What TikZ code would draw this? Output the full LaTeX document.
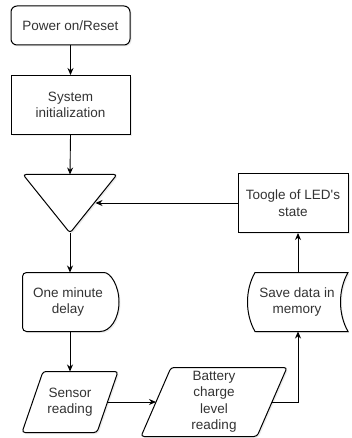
\documentclass[tikz,border=0pt]{standalone}
\usepackage{fontspec}
\setmainfont{Liberation Sans}
\usetikzlibrary{arrows.meta,calc,shadows}
\begin{document}
\begin{tikzpicture}[x=1pt,y=-1pt,
  shp/.style={draw=black,line width=1pt,fill=white,
    drop shadow={shadow xshift=1.5pt,shadow yshift=-1.5pt,opacity=0.15}},
  txt/.style={font=\fontsize{13.5}{16.5}\selectfont,align=center,text=black!80},
  arr/.style={-{Stealth[length=7pt,width=6pt]},line width=0.9pt},
  lin/.style={line width=0.9pt}]
\useasboundingbox (0,0) rectangle (351,438);

% Power on / Reset
\node[shp,rounded corners=6pt,minimum width=119pt,minimum height=39pt,txt] (power) at (70.5,25.5) {Power on/Reset};
% System initialization
\node[shp,minimum width=119pt,minimum height=59pt,txt] (system) at (70.5,105) {System\\initialization};

% Merge triangle
\path[shp,rounded corners=3pt] (23,174.5) -- (117,174.5) -- (70,233) -- cycle;
\coordinate (tritop) at (70,174.5);
\coordinate (tribot) at (70,233);
\coordinate (triR) at (95.5,203);

% Toogle of LED's state
\node[shp,minimum width=110pt,minimum height=59pt,txt] (toggle) at (293,203) {Toogle of LED\textquotesingle s\\state};

% One minute delay
\path[shp] (100,272.5) arc[start angle=-90,end angle=90,x radius=19,y radius=29.5]
  [rounded corners=4pt] -- (22.5,331.5) -- (22.5,272.5) -- cycle;
\node[txt] (delay) at (68,302) {One minute\\delay};
\coordinate (delaytop) at (70,272.5);
\coordinate (delaybot) at (70,331.5);

% Sensor reading
\path[shp,rounded corners=3pt] (43,371.5) -- (118,371.5) -- (97,432.5) -- (22,432.5) -- cycle;
\node[txt] (sensor) at (70,402) {Sensor\\reading};
\coordinate (sensortop) at (70,371.5);
\coordinate (sensorR) at (107.5,402);

% Battery charge level reading
\path[shp,rounded corners=3pt] (171,367.5) -- (287,367.5) -- (257,436.5) -- (141,436.5) -- cycle;
\node[txt] (battery) at (214,402) {Battery\\charge\\level\\reading};
\coordinate (batL) at (156,402);
\coordinate (batR) at (272,402);

% Save data in memory
\path[shp] (255,272.5) -- (348,272.5) .. controls (338,290) and (338,314) .. (348,331.5)
  -- (255,331.5) .. controls (245,314) and (245,290) .. (255,272.5) -- cycle;
\node[txt] (save) at (297,302) {Save data in\\memory};
\coordinate (savetop) at (298,272.5);
\coordinate (savebot) at (298,331.5);

% Connectors
\draw[arr] (power.south) -- (system.north);
\draw[arr] (system.south) -- (tritop);
\draw[arr] (tribot) -- (delaytop);
\draw[arr] (delaybot) -- (sensortop);
\draw[arr] (sensorR) -- (batL);
\draw[arr] (batR) -| (savebot);
\draw[arr] (savetop) -- (savetop |- toggle.south);
\draw[arr] (toggle.west) -- (triR);
\end{tikzpicture}
\end{document}
